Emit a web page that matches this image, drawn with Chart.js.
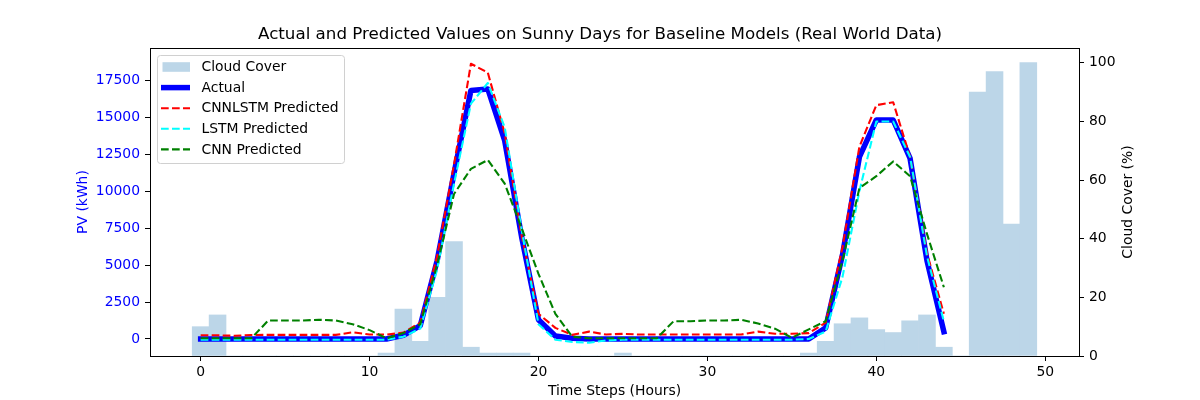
<!DOCTYPE html>
<html>
<head>
<meta charset="utf-8">
<script src="https://cdn.jsdelivr.net/npm/chart.js@4.4.1/dist/chart.umd.min.js"></script>
<style>
  html, body { margin: 0; padding: 0; background: #fff; }
  #wrap { width: 1200px; height: 400px; }
</style>
</head>
<body>
<div id="wrap"><canvas id="c" width="1200" height="400"></canvas></div>
<script>
// ---- data ----
const hours = [0,1,2,3,4,5,6,7,8,9,10,11,12,13,14,15,16,17,18,19,20,21,22,23,24,25,26,27,28,29,30,31,32,33,34,35,36,37,38,39,40,41,42,43,44];
const cloudHours = [0,1,2,3,4,5,6,7,8,9,10,11,12,13,14,15,16,17,18,19,20,21,22,23,24,25,26,27,28,29,30,31,32,33,34,35,36,37,38,39,40,41,42,43,44,45,46,47,48,49];
const cloudCover = [10,14,0,0,0,0,0,0,0,0,0,1,16,5,20,39,3,1,1,1,0,0,0,0,0,1,0,0,0,0,0,0,0,0,0,0,1,5,11,13,9,8,12,14,3,0,90,97,45,100];
const actual = [0,0,0,0,0,0,0,0,0,0,0,0,250,900,5300,11200,16800,16900,13400,6900,1300,200,50,0,0,0,0,0,0,0,0,0,0,0,0,0,0,750,5700,12300,14800,14800,12200,5300,500];
const cnnlstm = [250,250,220,270,280,280,280,280,280,450,300,300,430,1100,5600,11800,18600,18000,13900,7000,1700,750,280,500,300,350,300,300,300,300,300,300,300,500,350,350,400,1100,6200,13000,15800,16000,12300,5800,1700];
const lstm = [-50,-50,-50,-50,-50,-50,-50,-50,-50,-50,-50,-50,150,700,4700,10500,15900,17300,14300,7400,1000,-50,-200,-250,-100,-50,-50,-50,-50,-50,-50,-50,-50,-50,-50,-50,0,500,4200,10000,14700,14700,12300,5600,1200];
const cnn = [50,50,50,50,1250,1250,1250,1300,1250,1000,600,50,400,1000,5000,9800,11500,12100,10500,7500,4400,1700,150,50,50,50,50,50,1200,1200,1250,1250,1300,1050,700,80,650,1200,5300,10200,11000,12000,11000,7100,3500];
const pvTicks = [0,2500,5000,7500,10000,12500,15000,17500];
const cloudTicks = [0,20,40,60,80,100];
const xTicks = [0,10,20,30,40,50];
const titleText = 'Actual and Predicted Values on Sunny Days for Baseline Models (Real World Data)';
const rightTitle = 'Cloud Cover (%)';

// ---- helpers ----
const FONT = 'DejaVu Sans';
const pts = (xs, ys) => xs.map((x, i) => ({x: x, y: ys[i]}));

const framePlugin = {
  id: 'frame',
  afterDatasetsDraw(chart) {
    const {ctx, chartArea: a} = chart;
    ctx.save();
    ctx.strokeStyle = '#000';
    ctx.lineWidth = 1;
    ctx.strokeRect(Math.round(a.left) + 0.5, Math.round(a.top) + 0.5,
                   Math.round(a.right - a.left), Math.round(a.bottom - a.top));
    ctx.restore();
  },
  afterDraw(chart) {
    const ctx = chart.ctx;
    const ds = chart.data.datasets;
    // right axis title, rotated like matplotlib (reads bottom to top)
    const y1 = chart.scales.y1;
    ctx.save();
    ctx.translate(1128, (y1.top + y1.bottom) / 2);
    ctx.rotate(-Math.PI / 2);
    ctx.fillStyle = '#000';
    ctx.font = '13.9px "' + FONT + '"';
    ctx.textAlign = 'center';
    ctx.textBaseline = 'middle';
    ctx.fillText(rightTitle, 0, 0);
    ctx.restore();

    const order = [0, 1, 2, 3, 4];
    const bx = 157.5, by = 55.5, bw = 187, bh = 108, r = 3;
    ctx.save();
    ctx.beginPath();
    ctx.moveTo(bx + r, by);
    ctx.lineTo(bx + bw - r, by);
    ctx.quadraticCurveTo(bx + bw, by, bx + bw, by + r);
    ctx.lineTo(bx + bw, by + bh - r);
    ctx.quadraticCurveTo(bx + bw, by + bh, bx + bw - r, by + bh);
    ctx.lineTo(bx + r, by + bh);
    ctx.quadraticCurveTo(bx, by + bh, bx, by + bh - r);
    ctx.lineTo(bx, by + r);
    ctx.quadraticCurveTo(bx, by, bx + r, by);
    ctx.closePath();
    ctx.fillStyle = 'rgba(255,255,255,0.8)';
    ctx.fill();
    ctx.strokeStyle = '#d0d0d0';
    ctx.lineWidth = 1;
    ctx.stroke();
    const ys = [67, 87.6, 108.2, 128.8, 149.4];
    order.forEach((di, k) => {
      const d = ds[di];
      const y = ys[k];
      if (d.type === 'bar') {
        ctx.fillStyle = d.backgroundColor;
        ctx.fillRect(162.5, y - 4.8, 27.5, 9.6);
      } else {
        ctx.beginPath();
        ctx.strokeStyle = d.borderColor;
        ctx.lineWidth = d.borderWidth;
        ctx.setLineDash(d.borderDash || []);
        ctx.lineCap = 'butt';
        ctx.moveTo(161, y);
        ctx.lineTo(190, y);
        ctx.stroke();
        ctx.setLineDash([]);
      }
      ctx.fillStyle = '#000';
      ctx.font = '13.9px "' + FONT + '"';
      ctx.textBaseline = 'middle';
      ctx.textAlign = 'left';
      ctx.fillText(d.label, 201.5, y + 0.5);
    });
    ctx.restore();
  }
};

const tickFont = {family: FONT, size: 13.9};
const dash = [7.7, 3.3];

new Chart(document.getElementById('c'), {
  type: 'line',
  data: {
    datasets: [
      {type: 'bar', label: 'Cloud Cover', data: pts(cloudHours, cloudCover), yAxisID: 'y1', xAxisID: 'x',
       backgroundColor: 'rgb(188,214,232)', borderWidth: 0, barPercentage: 1, categoryPercentage: 1, order: 5},
      {type: 'line', label: 'Actual', data: pts(hours, actual), yAxisID: 'y', xAxisID: 'x',
       borderColor: '#0000ff', borderWidth: 5.5, pointRadius: 0, tension: 0, fill: false, order: 4,
       borderJoinStyle: 'round', borderCapStyle: 'square'},
      {type: 'line', label: 'CNNLSTM Predicted', data: pts(hours, cnnlstm), yAxisID: 'y', xAxisID: 'x',
       borderColor: '#ff0000', borderWidth: 2.1, borderDash: dash, pointRadius: 0, tension: 0, fill: false, order: 3,
       borderJoinStyle: 'round'},
      {type: 'line', label: 'LSTM Predicted', data: pts(hours, lstm), yAxisID: 'y', xAxisID: 'x',
       borderColor: '#00ffff', borderWidth: 2.1, borderDash: dash, pointRadius: 0, tension: 0, fill: false, order: 2,
       borderJoinStyle: 'round'},
      {type: 'line', label: 'CNN Predicted', data: pts(hours, cnn), yAxisID: 'y', xAxisID: 'x',
       borderColor: '#008000', borderWidth: 2.1, borderDash: dash, pointRadius: 0, tension: 0, fill: false, order: 1,
       borderJoinStyle: 'round'}
    ]
  },
  options: {
    responsive: false,
    animation: false,
    devicePixelRatio: 1,
    layout: {padding: 0},
    plugins: {
      legend: {display: false},
      tooltip: {enabled: false},
      title: {display: true, text: titleText, color: '#000',
              font: {family: FONT, size: 16.7, weight: 'normal'}, padding: {top: 25, bottom: 3}}
    },
    scales: {
      x: {
        type: 'linear', position: 'bottom', min: -3, max: 52, offset: false,
        afterBuildTicks(a) { a.ticks = xTicks.map(v => ({value: v})); },
        ticks: {color: '#000', font: tickFont, padding: 3, maxRotation: 0, callback: v => String(v)},
        grid: {display: true, drawOnChartArea: false, drawTicks: true, tickLength: 5, color: '#000', offset: false},
        border: {display: true, color: '#000'},
        title: {display: true, text: 'Time Steps (Hours)', color: '#000', font: tickFont, padding: {top: 0, bottom: 0}},
        afterFit(s) { s.height = 44; }
      },
      y: {
        type: 'linear', position: 'left', min: -1149, max: 19662,
        afterBuildTicks(a) { a.ticks = pvTicks.map(v => ({value: v})); },
        ticks: {color: '#0000ff', font: tickFont, padding: 5, callback: v => String(v)},
        grid: {display: true, drawOnChartArea: false, drawTicks: true, tickLength: 5, color: '#000'},
        border: {display: true, color: '#000'},
        title: {display: true, text: 'PV (kWh)', color: '#0000ff', font: tickFont, padding: {top: 75, bottom: 0}},
        afterFit(s) { s.width = 150; }
      },
      y1: {
        type: 'linear', position: 'right', min: 0, max: 105,
        afterBuildTicks(a) { a.ticks = cloudTicks.map(v => ({value: v})); },
        ticks: {color: '#000', font: tickFont, padding: 5, callback: v => String(v)},
        grid: {display: true, drawOnChartArea: false, drawTicks: true, tickLength: 5, color: '#000'},
        border: {display: true, color: '#000'},
        title: {display: false},
        afterFit(s) { s.width = 121; }
      }
    }
  },
  plugins: [framePlugin]
});
</script>
</body>
</html>
